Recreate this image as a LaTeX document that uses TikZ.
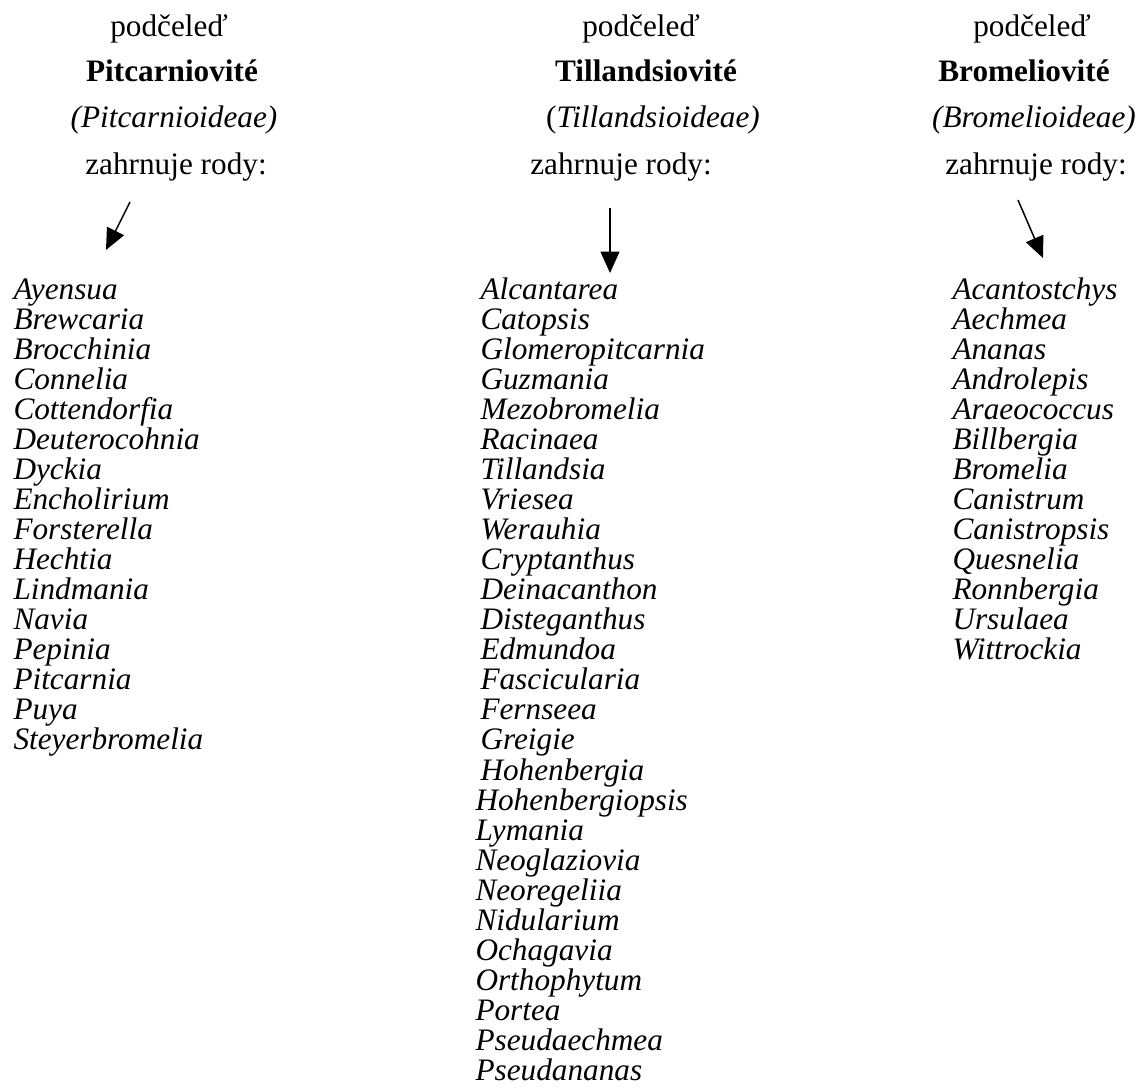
\documentclass[tikz,border=0pt]{standalone}
\usepackage{fontspec}
\setmainfont{Liberation Serif}
\usepackage{tikz}
\usetikzlibrary{positioning,arrows.meta}

\begin{document}
\begin{tikzpicture}[
x=0.4pt, y=-0.4pt,
head/.style={anchor=base, inner sep=0pt, font=\fontsize{12.5}{15}\selectfont},
genera/.style={anchor=base west, align=left, inner sep=0pt,
font=\fontsize{12.5}{12}\selectfont\itshape},
arrow/.style={-{Triangle[length=8.5pt,width=7.5pt]}, line width=0.6pt}
]
\useasboundingbox (0,0) rectangle (1139,1090);

% Pitcarniovite
\node[head] (pit1) at (169,37) {podčeleď};
\node[head] (pit2) at (172,82) {\textbf{Pitcarniovité}};
\node[head] (pit3) at (174,128) {\textit{(Pitcarnioideae)}};
\node[head] (pit4) at (176,175) {zahrnuje rody:};

% Tillandsiovite
\node[head] (til1) at (641,37) {podčeleď};
\node[head] (til2) at (646,82) {\textbf{Tillandsiovité}};
\node[head] (til3) at (653,128) {(\textit{Tillandsioideae)}};
\node[head] (til4) at (621,175) {zahrnuje rody:};

% Bromeliovite
\node[head] (bro1) at (1032,37) {podčeleď};
\node[head] (bro2) at (1024,82) {\textbf{Bromeliovité}};
\node[head] (bro3) at (1034,128) {\textit{(Bromelioideae)}};
\node[head] (bro4) at (1036,175) {zahrnuje rody:};

% lists of genera (placed by the baseline of the last line)
\node[genera] (pitgen) at (13,750) {Ayensua\\ Brewcaria\\ Brocchinia\\
Connelia\\ Cottendorfia\\ Deuterocohnia\\ Dyckia\\ Encholirium\\
Forsterella\\ Hechtia\\ Lindmania\\ Navia\\ Pepinia\\ Pitcarnia\\
Puya\\ Steyerbromelia};

\node[genera] (tilgen) at (480,1080) {Alcantarea\\ Catopsis\\
Glomeropitcarnia\\ Guzmania\\ Mezobromelia\\ Racinaea\\ Tillandsia\\
Vriesea\\ Werauhia\\ Cryptanthus\\ Deinacanthon\\ Disteganthus\\
Edmundoa\\ Fascicularia\\ Fernseea\\ Greigie\\ Hohenbergia\\
\hspace*{-2pt}Hohenbergiopsis\\ \hspace*{-2pt}Lymania\\
\hspace*{-2pt}Neoglaziovia\\ \hspace*{-2pt}Neoregeliia\\
\hspace*{-2pt}Nidularium\\ \hspace*{-2pt}Ochagavia\\
\hspace*{-2pt}Orthophytum\\ \hspace*{-2pt}Portea\\
\hspace*{-2pt}Pseudaechmea\\ \hspace*{-2pt}Pseudananas};

\node[genera] (brogen) at (952,660) {Acantostchys\\ Aechmea\\ Ananas\\
Androlepis\\ Araeococcus\\ Billbergia\\ Bromelia\\ Canistrum\\
Canistropsis\\ Quesnelia\\ Ronnbergia\\ Ursulaea\\ Wittrockia};

% arrows
\coordinate (pitfrom) at (130,202);
\coordinate (pitto) at (106,250);
\coordinate (tilfrom) at (610,208);
\coordinate (tilto) at (610,273);
\coordinate (brofrom) at (1018,200);
\coordinate (broto) at (1043,258);

\draw[arrow] (pitfrom) -- (pitto);
\draw[arrow] (tilfrom) -- (tilto);
\draw[arrow] (brofrom) -- (broto);

\end{tikzpicture}
\end{document}
